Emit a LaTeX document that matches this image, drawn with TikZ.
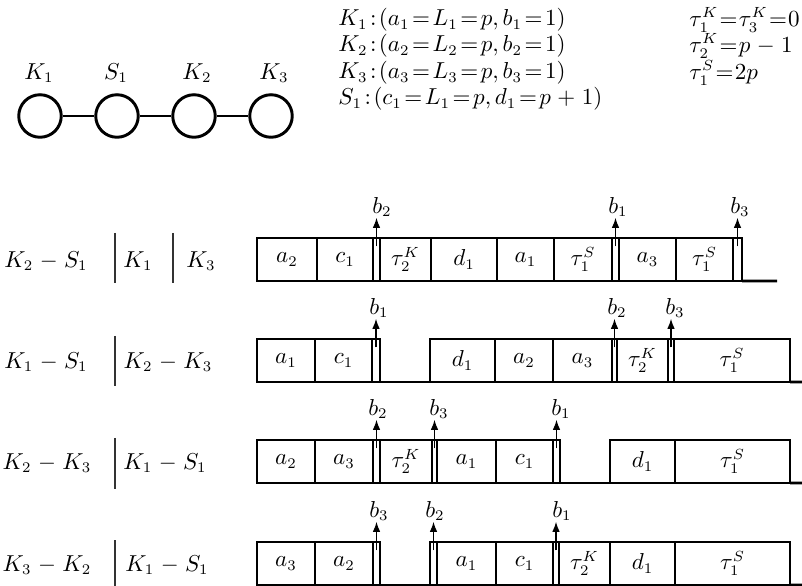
\documentclass[tikz,border=0pt]{standalone}
\usetikzlibrary{arrows.meta}
\begin{document}
\fontsize{10.5}{12.6}\selectfont
\medmuskip=5mu plus 2mu minus 4mu\relax
\thickmuskip=2mu plus 2mu\relax
\begin{tikzpicture}[x=0.475pt,y=-0.475pt,
  cell/.style={draw, line width=1.3pt, minimum height=20.4pt, inner sep=0pt, outer sep=0pt},
  blab/.style={inner sep=0.3pt},
  barr/.style={-{Latex[length=4.8pt,width=3.6pt]}, line width=0.6pt},
  baseln/.style={line width=1.3pt},
  vbar/.style={line width=0.8pt, black!80},
  vert/.style={circle, draw, line width=1.4pt, minimum size=20.2pt, inner sep=0pt},
  gedge/.style={line width=1.4pt},
  formula/.style={anchor=west, inner sep=0pt}]
\useasboundingbox (0,0) rectangle (802,586);
\newcommand\cellnode[4]{\node[cell, minimum width={(#3-#2)*0.475pt}] (#1) at ({(#2+#3)/2},21.5) {#4};}
\newcommand\bmark[4]{% box name, label name, label x, text
  \node[blab] (#2) at (#3,-31) {#4};
  \draw[barr] ([yshift=-4pt]#1.north) -- (#1.north |- #2.south);}

% graph
\node[vert] (K1) at (40,116) {};
\node[vert] (S1) at (117,116) {};
\node[vert] (K2) at (194,116) {};
\node[vert] (K3) at (271,116) {};
\draw[gedge] (K1) -- (S1);
\draw[gedge] (S1) -- (K2);
\draw[gedge] (K2) -- (K3);
\node (lK1) at (39,73) {$K_1$};
\node (lS1) at (116,73) {$S_1$};
\node (lK2) at (197,73) {$K_2$};
\node (lK3) at (274,73) {$K_3$};

% formulas
\node[formula] (f1) at (338,20) {$K_1:(a_1=L_1=p,b_1=1)$};
\node[formula] (f2) at (338,46) {$K_2:(a_2=L_2=p,b_2=1)$};
\node[formula] (f3) at (338,73) {$K_3:(a_3=L_3=p,b_3=1)$};
\node[formula] (f4) at (338,99) {$S_1:(c_1=L_1=p,d_1=p+1)$};
\node[formula] (g1) at (689,20) {$\thickmuskip=1mu\tau_1^K=\tau_3^K=0$};
\node[formula] (g2) at (689,46) {$\thickmuskip=1mu\tau_2^K=p-1$};
\node[formula] (g3) at (689,73) {$\thickmuskip=1mu\tau_1^S=2p$};

% row labels
\node (r1t) at (46,261) {$K_2-S_1$};
\draw[vbar] (115,233) -- (115,283);
\node (r1u) at (138,261) {$K_1$};
\draw[vbar] (173,233) -- (173,283);
\node (r1v) at (201,261) {$K_3$};

\node (r2t) at (46,362) {$K_1-S_1$};
\draw[vbar] (115,336) -- (115,386);
\node (r2u) at (168,362) {$K_2-K_3$};

\node (r3t) at (47,463) {$K_2-K_3$};
\draw[vbar] (115,438) -- (115,489);
\node (r3u) at (165,463) {$K_1-S_1$};

\node (r4t) at (47,565) {$K_3-K_2$};
\draw[vbar] (115,540) -- (115,590);
\node (r4u) at (167,565) {$K_1-S_1$};

% row 1
\begin{scope}[shift={(0,238)}]
\cellnode{aA}{257}{317}{$a_2$}
\cellnode{aB}{317}{373}{$c_1$}
\cellnode{aC}{373}{380}{}
\cellnode{aD}{380}{431}{$\tau_2^K$}
\cellnode{aE}{431}{497}{$d_1$}
\cellnode{aF}{497}{554}{$a_1$}
\cellnode{aG}{554}{612}{$\tau_1^S$}
\cellnode{aH}{612}{619}{}
\cellnode{aI}{619}{676}{$a_3$}
\cellnode{aJ}{676}{733}{$\tau_1^S$}
\cellnode{aK}{733}{742}{}
\coordinate (aEnd) at (777,43);
\draw[baseln] (aK.south east) -- (aEnd);
\bmark{aC}{aL1}{382}{$b_2$}
\bmark{aH}{aL2}{618}{$b_1$}
\bmark{aK}{aL3}{740}{$b_3$}
\end{scope}

% row 2
\begin{scope}[shift={(0,339)}]
\cellnode{bA}{257}{315}{$a_1$}
\cellnode{bB}{315}{372}{$c_1$}
\cellnode{bC}{372}{380}{}
\cellnode{bD}{430}{495}{$d_1$}
\cellnode{bE}{495}{553}{$a_2$}
\cellnode{bF}{553}{612}{$a_3$}
\cellnode{bG}{612}{617}{}
\cellnode{bH}{617}{668}{$\tau_2^K$}
\cellnode{bI}{668}{674}{}
\cellnode{bJ}{674}{790}{$\tau_1^S$}
\coordinate (bEnd) at (802,43);
\draw[baseln] (bC.south east) -- (bD.south west);
\draw[baseln] (bJ.south east) -- (bEnd);
\bmark{bC}{bL1}{379}{$b_1$}
\bmark{bG}{bL2}{617}{$b_2$}
\bmark{bI}{bL3}{675}{$b_3$}
\end{scope}

% row 3
\begin{scope}[shift={(0,440)}]
\cellnode{cA}{257}{315}{$a_2$}
\cellnode{cB}{315}{373}{$a_3$}
\cellnode{cC}{373}{380}{}
\cellnode{cD}{380}{432}{$\tau_2^K$}
\cellnode{cE}{432}{437}{}
\cellnode{cF}{437}{496}{$a_1$}
\cellnode{cG}{496}{553}{$c_1$}
\cellnode{cH}{553}{560}{}
\cellnode{cI}{610}{675}{$d_1$}
\cellnode{cJ}{675}{790}{$\tau_1^S$}
\coordinate (cEnd) at (802,43);
\draw[baseln] (cH.south east) -- (cI.south west);
\draw[baseln] (cJ.south east) -- (cEnd);
\bmark{cC}{cL1}{378}{$b_2$}
\bmark{cE}{cL2}{439}{$b_3$}
\bmark{cH}{cL3}{561}{$b_1$}
\end{scope}

% row 4
\begin{scope}[shift={(0,542)}]
\cellnode{dA}{257}{315}{$a_3$}
\cellnode{dB}{315}{373}{$a_2$}
\cellnode{dC}{373}{380}{}
\cellnode{dD}{430}{437}{}
\cellnode{dE}{437}{496}{$a_1$}
\cellnode{dF}{496}{553}{$c_1$}
\cellnode{dG}{553}{559}{}
\cellnode{dH}{559}{610}{$\tau_2^K$}
\cellnode{dI}{610}{675}{$d_1$}
\cellnode{dJ}{675}{790}{$\tau_1^S$}
\coordinate (dEnd) at (802,43);
\draw[baseln] (dC.south east) -- (dD.south west);
\draw[baseln] (dJ.south east) -- (dEnd);
\bmark{dC}{dL1}{379}{$b_3$}
\bmark{dD}{dL2}{435}{$b_2$}
\bmark{dG}{dL3}{562}{$b_1$}
\end{scope}
\end{tikzpicture}
\end{document}
